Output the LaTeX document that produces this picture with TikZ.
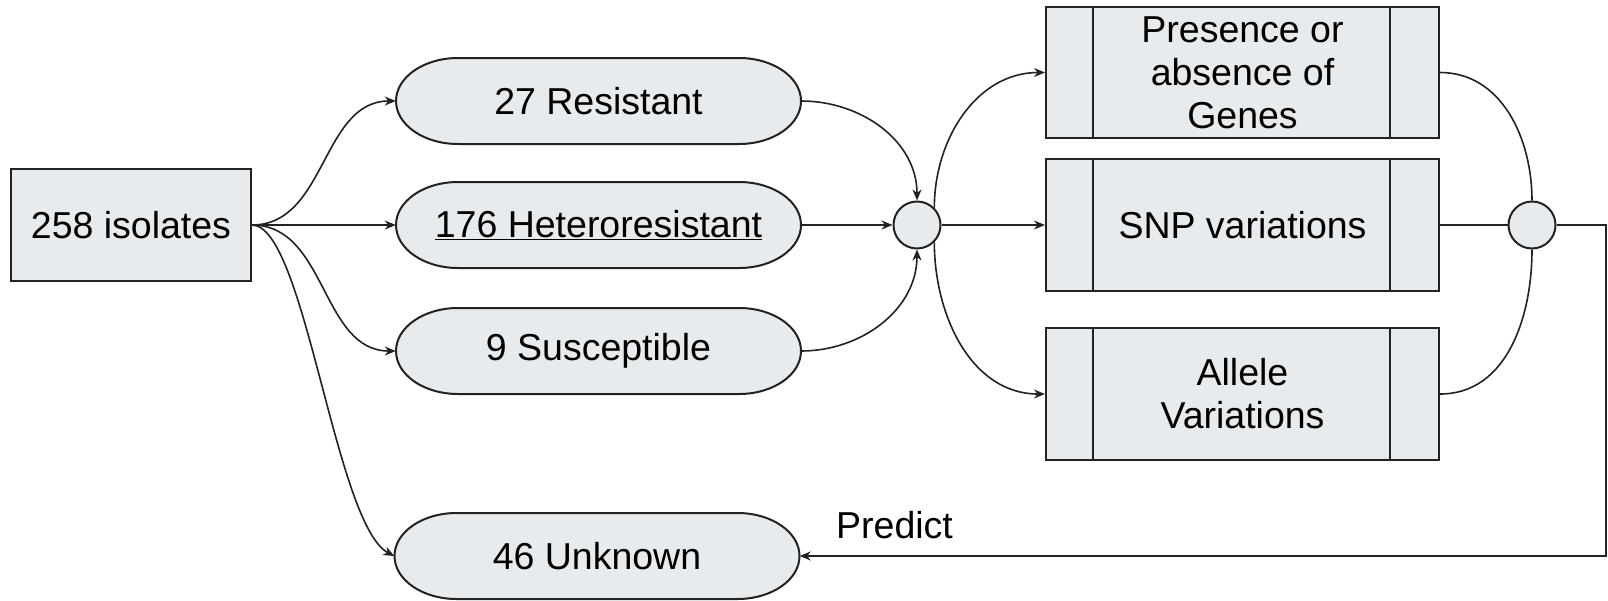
\documentclass[tikz,border=0pt]{standalone}
\usepackage{fontspec}
\setmainfont{Liberation Sans}
\usetikzlibrary{arrows.meta}
\definecolor{boxfill}{HTML}{E8EBED}
\definecolor{linec}{HTML}{222222}
\newcommand{\mystad}[4]{%
  \draw[base] ({#2-140.5},{#3-43}) -- ({#2+140.5},{#3-43})
    arc[start angle=-90,end angle=90,x radius=62,y radius=43]
    -- ({#2-140.5},{#3+43})
    arc[start angle=90,end angle=270,x radius=62,y radius=43] -- cycle;
  \node[minimum width=405pt, minimum height=86pt, inner sep=0pt] (#1) at (#2,#3) {#4};
}
\begin{document}
\begin{tikzpicture}[x=1pt,y=-1pt,
  every node/.style={font=\fontsize{37.5}{43}\selectfont, text=black},
  base/.style={draw=linec, line width=2pt, fill=boxfill, inner sep=0pt},
  rectbox/.style={base, rectangle},
  dot/.style={base, circle, minimum size=47pt},
  procbox/.style={base, rectangle, minimum width=393pt, minimum height=131pt, align=center},
  conn/.style={draw=linec, line width=1.6pt},
  arr/.style={conn, -{Stealth[length=11pt,width=9pt,inset=3.5pt]}}
]
\useasboundingbox (0,0) rectangle (1608,600);
\node[rectbox, minimum width=240pt, minimum height=112pt] (iso) at (131,225) {258 isolates};
\mystad{res}{598.5}{101}{27 Resistant}
\mystad{het}{598.5}{225}{\underline{176 Heteroresistant}}
\mystad{sus}{598.5}{351}{9 Susceptible}
\mystad{unk}{597}{556}{46 Unknown}
\node[dot] (c1) at (917,225) {};
\node[procbox] (gen) at (1242.5,72.5) {Presence or\\absence of\\Genes};
\node[procbox, minimum height=132pt] (snp) at (1242.5,225) {SNP variations};
\node[procbox, minimum height=132pt] (all) at (1242.5,394) {Allele\\Variations};
\foreach \b in {gen,snp,all}{
  \draw[draw=linec, line width=2pt] ([xshift=48pt]\b.north west) -- ([xshift=48pt]\b.south west);
  \draw[draw=linec, line width=2pt] ([xshift=-50pt]\b.north east) -- ([xshift=-50pt]\b.south east);
}
\node[dot] (c2) at (1532,225) {};
\coordinate (k1) at (1606,225);
\coordinate (k2) at (1606,556);
\node[anchor=base west, inner sep=0pt] (pred) at (836,538) {Predict};
% left fan
\draw[arr] (iso.east) to[out=0,in=180] (res.west);
\draw[arr] (iso.east) -- (het.west);
\draw[arr] (iso.east) to[out=0,in=180] (sus.west);
\draw[arr] (iso.east) .. controls (305,225) and (335,525) .. (unk.west);
% into c1
\draw[arr] (res.east) to[out=0,in=90] (c1.north);
\draw[arr] (het.east) -- (c1.west);
\draw[arr] (sus.east) to[out=0,in=-90] (c1.south);
% out of c1
\draw[arr] (c1.45) to[out=90,in=180] (gen.west);
\draw[arr] (c1.east) -- (snp.west);
\draw[arr] (c1.-45) to[out=-90,in=180] (all.west);
% into c2
\draw[conn] (gen.east) to[out=0,in=90] (c2.north);
\draw[conn] (snp.east) -- (c2.west);
\draw[conn] (all.east) to[out=0,in=-90] (c2.south);
% feedback
\draw[arr] (c2.east) -- (k1) -- (k2) -- (unk.east);
\end{tikzpicture}
\end{document}
